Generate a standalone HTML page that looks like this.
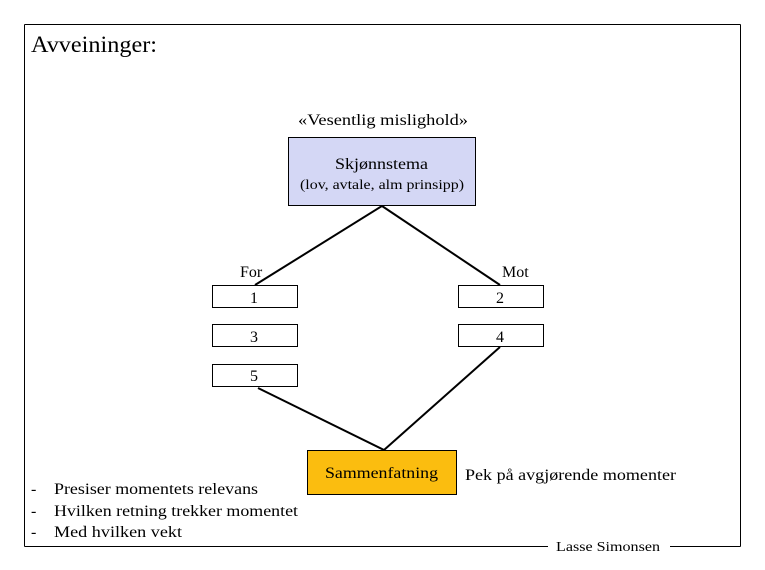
<!DOCTYPE html>
<html><head><meta charset="utf-8"><style>
body{margin:0;background:#fff;width:765px;height:570px;overflow:hidden;font-family:"Liberation Serif",serif;}
svg{display:block}
</style></head><body>
<svg width="765" height="570" xmlns="http://www.w3.org/2000/svg" font-family="Liberation Serif, serif">
<g stroke="#000" fill="none" stroke-width="1">
<line x1="24.5" y1="24.5" x2="740.5" y2="24.5"/>
<line x1="24.5" y1="24.5" x2="24.5" y2="546.5"/>
<line x1="740.5" y1="24.5" x2="740.5" y2="546.5"/>
<line x1="24.5" y1="546.5" x2="548" y2="546.5"/>
<line x1="670" y1="546.5" x2="740.5" y2="546.5"/>
</g>
<text x="31" y="52" font-size="23" textLength="126" lengthAdjust="spacingAndGlyphs">Avveininger:</text>
<text x="298" y="125" font-size="16" textLength="170" lengthAdjust="spacingAndGlyphs">«Vesentlig mislighold»</text>
<rect x="288.5" y="137.5" width="187" height="68" fill="#d4d7f5" stroke="#000"/>
<text x="335" y="169" font-size="16" textLength="93" lengthAdjust="spacingAndGlyphs">Skjønnstema</text>
<text x="300" y="189" font-size="14" textLength="164" lengthAdjust="spacingAndGlyphs">(lov, avtale, alm prinsipp)</text>
<g stroke="#000" stroke-width="2">
<line x1="382" y1="206" x2="255" y2="285"/>
<line x1="382" y1="206" x2="500" y2="285"/>
<line x1="500" y1="347" x2="384" y2="450"/>
<line x1="258" y1="388" x2="384" y2="450"/>
</g>
<text x="240" y="277" font-size="16">For</text>
<text x="502" y="277" font-size="16">Mot</text>
<g fill="#fff" stroke="#000">
<rect x="212.5" y="285.5" width="85" height="22"/>
<rect x="458.5" y="285.5" width="85" height="22"/>
<rect x="212.5" y="324.5" width="85" height="22"/>
<rect x="458.5" y="324.5" width="85" height="22"/>
<rect x="212.5" y="364.5" width="85" height="22"/>
</g>
<g font-size="16" text-anchor="middle">
<text x="254" y="303">1</text><text x="500" y="303">2</text>
<text x="254" y="342">3</text><text x="500" y="342">4</text>
<text x="254" y="381">5</text>
</g>
<rect x="307.5" y="450.5" width="149" height="44" fill="#fbbd0f" stroke="#000"/>
<text x="325" y="478" font-size="16" textLength="113" lengthAdjust="spacingAndGlyphs">Sammenfatning</text>
<text x="465" y="480" font-size="16" textLength="211" lengthAdjust="spacingAndGlyphs">Pek på avgjørende momenter</text>
<g font-size="16">
<text x="31" y="494">-</text><text x="54" y="494" textLength="204" lengthAdjust="spacingAndGlyphs">Presiser momentets relevans</text>
<text x="31" y="516">-</text><text x="54" y="516" textLength="244" lengthAdjust="spacingAndGlyphs">Hvilken retning trekker momentet</text>
<text x="31" y="537">-</text><text x="54" y="537" textLength="128" lengthAdjust="spacingAndGlyphs">Med hvilken vekt</text>
</g>
<text x="556" y="551" font-size="14" textLength="104" lengthAdjust="spacingAndGlyphs">Lasse Simonsen</text>
</svg>
</body></html>
